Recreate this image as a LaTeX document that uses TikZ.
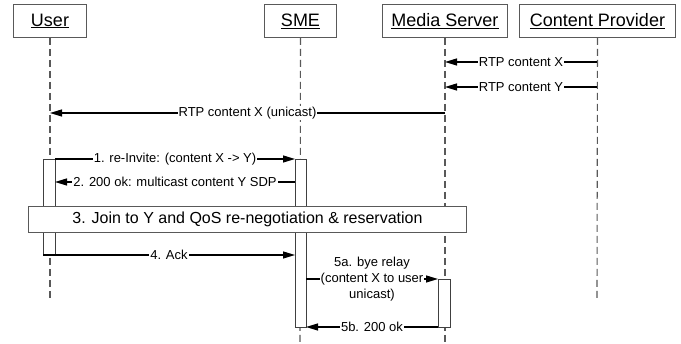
\documentclass[tikz,border=0pt]{standalone}
\usepackage{fontspec}
\setmainfont{Liberation Sans}
\usetikzlibrary{arrows.meta}
\begin{document}
\begin{tikzpicture}[x=1pt,y=-1pt,
  actor/.style={draw=black!65,line width=1pt,fill=white,inner sep=0pt,
    font=\fontsize{18}{20}\selectfont,anchor=north west},
  lifeline/.style={draw=black!65,line width=1.1pt,dash pattern=on 7pt off 4pt},
  bar/.style={draw=black!75,line width=1pt,fill=white},
  msg/.style={draw=black,line width=1.2pt,-{Triangle[length=12pt,width=7pt]}},
  lbl/.style={fill=white,inner sep=1pt,font=\fontsize{13}{15}\selectfont},
  phase/.style={draw=black!65,line width=1pt,fill=white,
    font=\fontsize{16}{18}\selectfont}]
\path[use as bounding box] (0,0) rectangle (681,344);

% participants
\node[actor,minimum width=73pt,minimum height=33pt] (user) at (13,4) {\underline{User}};
\node[actor,minimum width=72pt,minimum height=33pt] (sme) at (264,4) {\underline{SME}};
\node[actor,minimum width=125pt,minimum height=33pt] (ms) at (382,4) {\underline{Media Server}};
\node[actor,minimum width=156pt,minimum height=33pt] (cp) at (519,4) {\underline{Content Provider}};

% lifeline ends
\coordinate (userEnd) at (50,300);
\coordinate (smeEnd) at (300,344);
\coordinate (msEnd) at (445,344);
\coordinate (cpEnd) at (597,300);
\draw[lifeline] (user.south) -- (userEnd);
\draw[lifeline] (sme.south) -- (smeEnd);
\draw[lifeline] (ms.south) -- (msEnd);
\draw[lifeline] (cp.south) -- (cpEnd);

% media streams
\coordinate (cpX) at (597,62);  \coordinate (msX) at (445,62);
\coordinate (cpY) at (597,87);  \coordinate (msY) at (445,87);
\coordinate (msU) at (445,113); \coordinate (userU) at (50,113);
\draw[msg] (cpX) -- node[lbl] {RTP content X} (msX);
\draw[msg] (cpY) -- node[lbl] {RTP content Y} (msY);
\draw[msg] (msU) -- node[lbl] {RTP content X (unicast)} (userU);

% activation bars
\node[bar,minimum width=12pt,minimum height=95pt,inner sep=0pt,anchor=north west] (userAct) at (43,159) {};
\node[bar,minimum width=11pt,minimum height=168pt,inner sep=0pt,anchor=north west] (smeAct) at (295,159) {};
\node[bar,minimum width=12pt,minimum height=48pt,inner sep=0pt,anchor=north west] (msAct) at (438,279) {};

% signalling
\coordinate (m1a) at (55,159);  \coordinate (m1b) at (295,159);
\coordinate (m2a) at (295,182); \coordinate (m2b) at (55,182);
\coordinate (m4a) at (43,255);  \coordinate (m4b) at (295,255);
\coordinate (m5a) at (306,279); \coordinate (m5b) at (438,279);
\coordinate (m6a) at (438,327); \coordinate (m6b) at (306,327);
\draw[msg] (m1a) -- node[lbl] {1. re-Invite: (content X -> Y)} (m1b);
\draw[msg] (m2a) -- node[lbl] {2. 200 ok: multicast content Y SDP} (m2b);

\node[phase,minimum width=438pt,minimum height=26pt,inner sep=0pt,anchor=north west] (join) at (28,206)
  {3. Join to Y and QoS re-negotiation \& reservation};

\draw[msg] (m4a) -- node[lbl] {4. Ack} (m4b);
\draw[msg] (m5a) -- node[lbl,align=center,font=\fontsize{13}{16}\selectfont]
  {5a. bye relay\\(content X to user\\unicast)} (m5b);
\draw[msg] (m6a) -- node[lbl] {5b. 200 ok} (m6b);
\end{tikzpicture}
\end{document}
